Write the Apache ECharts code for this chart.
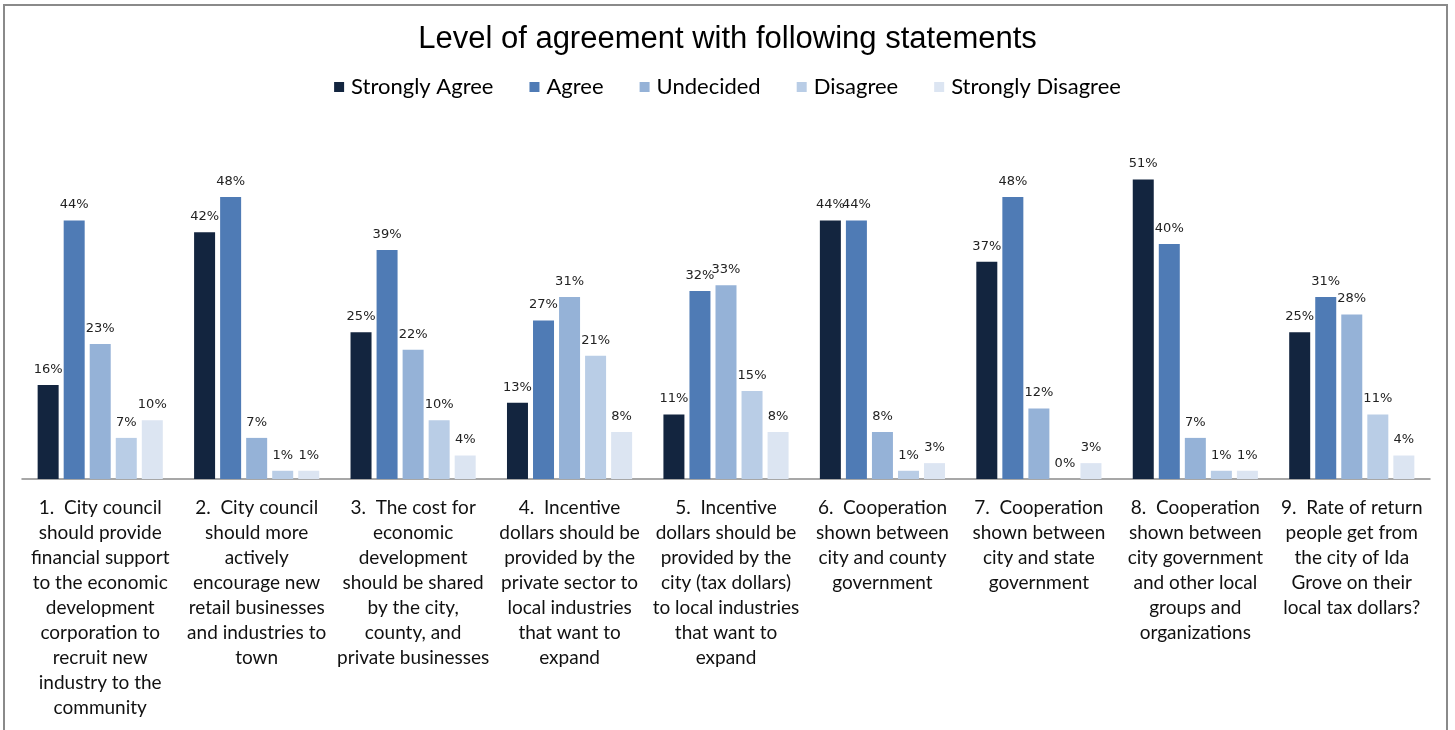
<!DOCTYPE html>
<html>
<head>
<meta charset="utf-8">
<script src="https://cdn.jsdelivr.net/npm/echarts@6/dist/echarts.min.js"></script>
<style>
html,body{margin:0;padding:0;background:#fff;}
#chart{width:1455px;height:730px;}
</style>
</head>
<body>
<div id="chart"></div>
<script>
const categories = [
  "1.  City council\nshould provide\nfinancial support\nto the economic\ndevelopment\ncorporation to\nrecruit new\nindustry to the\ncommunity",
  "2.  City council\nshould more\nactively\nencourage new\nretail businesses\nand industries to\ntown",
  "3.  The cost for\neconomic\ndevelopment\nshould be shared\nby the city,\ncounty, and\nprivate businesses",
  "4.  Incentive\ndollars should be\nprovided by the\nprivate sector to\nlocal industries\nthat want to\nexpand",
  "5.  Incentive\ndollars should be\nprovided by the\ncity (tax dollars)\nto local industries\nthat want to\nexpand",
  "6.  Cooperation\nshown between\ncity and county\ngovernment",
  "7.  Cooperation\nshown between\ncity and state\ngovernment",
  "8.  Cooperation\nshown between\ncity government\nand other local\ngroups and\norganizations",
  "9.  Rate of return\npeople get from\nthe city of Ida\nGrove on their\nlocal tax dollars?"
];
const seriesNames = ["Strongly Agree", "Agree", "Undecided", "Disagree", "Strongly Disagree"];
const stronglyAgree    = [16, 42, 25, 13, 11, 44, 37, 51, 25];
const agree            = [44, 48, 39, 27, 32, 44, 48, 40, 31];
const undecided        = [23, 7, 22, 31, 33, 8, 12, 7, 28];
const disagree         = [7, 1.4, 10, 21, 15, 1.4, 0, 1.4, 11];
const stronglyDisagree = [10, 1.4, 4, 8, 8, 2.7, 2.7, 1.4, 4];
const colors = ["#13253F", "#4F7BB5", "#95B2D7", "#B9CDE6", "#DCE5F2"];

const allValues = [stronglyAgree, agree, undecided, disagree, stronglyDisagree];

const chart = echarts.init(document.getElementById('chart'));
const option = {
  animation: false,
  backgroundColor: '#fff',
  title: {
    text: 'Level of agreement with following statements',
    left: 'center',
    top: 19,
    textStyle: { fontFamily: 'Liberation Sans', fontSize: 31, fontWeight: 'normal', color: '#000' }
  },
  legend: {
    top: 71,
    left: 'center',
    itemWidth: 10,
    itemHeight: 10,
    itemGap: 36,
    icon: 'rect',
    textStyle: { fontFamily: 'Lato', fontSize: 22, color: '#000', padding: [0, 0, 0, 2] },
    data: seriesNames
  },
  graphic: [{
    type: 'rect',
    shape: { x: 4, y: 5, width: 1443, height: 800 },
    style: { fill: 'none', stroke: '#8a8a8a', lineWidth: 2 },
    silent: true,
    z: 100
  }],
  grid: { left: 22, right: 25, top: 156, bottom: 251 },
  xAxis: {
    type: 'category',
    data: categories,
    axisTick: { show: false },
    axisLine: { lineStyle: { color: '#8a8a8a', width: 1.5 } },
    axisLabel: {
      interval: 0,
      margin: 16,
      fontFamily: 'Lato',
      fontSize: 19,
      lineHeight: 25,
      color: '#111',
      align: 'center'
    }
  },
  yAxis: {
    type: 'value',
    min: 0,
    max: 55,
    show: false,
    splitLine: { show: false }
  },
  series: seriesNames.map((name, i) => ({
    name: name,
    type: 'bar',
    data: allValues[i],
    barCategoryGap: '20%',
    barGap: '24%',
    itemStyle: { color: colors[i] },
    label: {
      show: true,
      position: 'top',
      distance: 9,
      fontFamily: 'DejaVu Sans',
      fontSize: 13,
      color: '#222',
      formatter: p => Math.round(p.value) + '%'
    }
  }))
};
chart.setOption(option);
</script>
</body>
</html>
